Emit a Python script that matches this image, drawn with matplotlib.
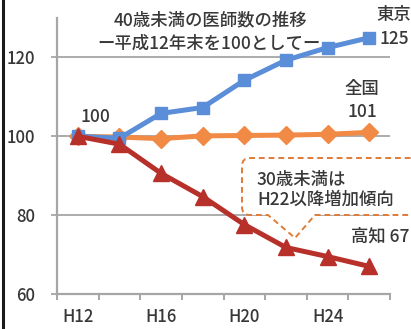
import matplotlib
matplotlib.use("Agg")
import matplotlib.pyplot as plt
from matplotlib.path import Path
from matplotlib.patches import PathPatch
from matplotlib.lines import Line2D

plt.rcParams['font.family'] = ['Noto Sans CJK JP', 'DejaVu Sans']
plt.rcParams['font.weight'] = 'medium'

# Index values (H12 = 100) for doctors under 40
years = ["H12", "H14", "H16", "H18", "H20", "H22", "H24", "H26"]
tokyo = [100, 99.5, 105.8, 107.3, 114.2, 119.3, 122.5, 125]
national = [100, 99.8, 99.4, 100.1, 100.2, 100.3, 100.5, 101]
kochi = [100, 98, 90.6, 84.7, 77.6, 71.8, 69.5, 67]
y_ticks = [60, 80, 100, 120]
shown_years = ["H12", "H16", "H20", "H24"]

W, H = 411, 329
TXT = "#383838"
GRID = "#a6a6a6"
BLUE = "#5b8ed8"
ORANGE = "#f08a45"
RED = "#b8302a"
FS = 12.5


def fx(px):
    return px / W


def fy(py):
    return 1 - py / H


fig = plt.figure(figsize=(W / 100, H / 100), dpi=100)
ax = fig.add_axes([fx(57), fy(294), (390 - 57) / W, (294 - 18) / H])

x = list(range(len(years)))
ax.plot(x, national, color=ORANGE, lw=3.6, marker="D", ms=9.5,
        mec=ORANGE, zorder=2)
ax.plot(x, tokyo, color=BLUE, lw=3.6, marker="s", ms=9,
        mec=BLUE, zorder=3)
ax.plot(x, kochi, color=RED, lw=3.6, marker="^", ms=12,
        mec=RED, zorder=4)

ax.set_xlim(-0.5, len(years) - 0.5)
ax.set_ylim(60, 130)
ax.set_yticks(y_ticks)
ax.set_yticklabels([str(v) for v in y_ticks])
for v in y_ticks[1:]:
    ax.axhline(v, color=GRID, lw=1.3, zorder=0.5)

ax.set_xticks([years.index(y) for y in shown_years])
ax.set_xticklabels(shown_years)
ax.set_xticks([i - 0.5 for i in range(len(years) + 1)], minor=True)
ax.tick_params(axis="x", which="major", length=0, pad=10,
               labelsize=FS - 0.5, labelcolor=TXT)
ax.tick_params(axis="x", which="minor", length=4, width=1.4, color=GRID,
               direction="out")
ax.tick_params(axis="y", length=4, width=1.3, color=GRID, pad=12,
               labelsize=FS - 0.5, labelcolor=TXT)

for s in ("top", "right"):
    ax.spines[s].set_visible(False)
for s in ("left", "bottom"):
    ax.spines[s].set_color(GRID)
    ax.spines[s].set_linewidth(1.6)

# Callout box with a pointer toward H22
pts = [(430, 158), (250, 158), (242, 158), (242, 166), (242, 207),
       (242, 215), (250, 215), (268, 215), (295, 238), (315, 215),
       (430, 215)]
codes = [Path.MOVETO, Path.LINETO, Path.CURVE3, Path.CURVE3, Path.LINETO,
         Path.CURVE3, Path.CURVE3, Path.LINETO, Path.LINETO, Path.LINETO,
         Path.LINETO]
callout = PathPatch(Path([(fx(a), fy(b)) for a, b in pts], codes),
                    transform=fig.transFigure, facecolor="white",
                    edgecolor="#e07b39", lw=1.4, ls=(0, (3, 2)),
                    clip_on=False, zorder=1.5)
ax.add_patch(callout)

fig.text(fx(257), fy(180), "30歳未満は", fontsize=FS, color=TXT,
         ha="left", va="center")
fig.text(fx(257), fy(200), "H22以降増加傾向", fontsize=FS, color=TXT,
         ha="left", va="center")

fig.text(fx(210), fy(20), "40歳未満の医師数の推移", fontsize=FS,
         color=TXT, ha="center", va="center")
fig.text(fx(209), fy(44), "ー平成12年末を100としてー", fontsize=FS,
         color=TXT, ha="center", va="center")

fig.text(fx(376), fy(15), "東京", fontsize=FS, color=TXT,
         ha="left", va="center")
fig.text(fx(379), fy(39), f"{tokyo[-1]:.0f}", fontsize=FS, color=TXT,
         ha="left", va="center")
fig.text(fx(362), fy(89), "全国", fontsize=FS, color=TXT,
         ha="center", va="center")
fig.text(fx(362), fy(112), f"{national[-1]:.0f}", fontsize=FS,
         color=TXT, ha="center", va="center")
fig.text(fx(95), fy(117), f"{tokyo[0]:.0f}", fontsize=FS, color=TXT,
         ha="center", va="center")
fig.text(fx(409), fy(237), f"高知 {kochi[-1]:.0f}", fontsize=FS,
         color=TXT, ha="right", va="center")

fig.add_artist(Line2D([fx(3), fx(3)], [0, 1], transform=fig.transFigure,
                      color="#1a1a1a", lw=2.2))

fig.savefig("out.png", dpi=100)
